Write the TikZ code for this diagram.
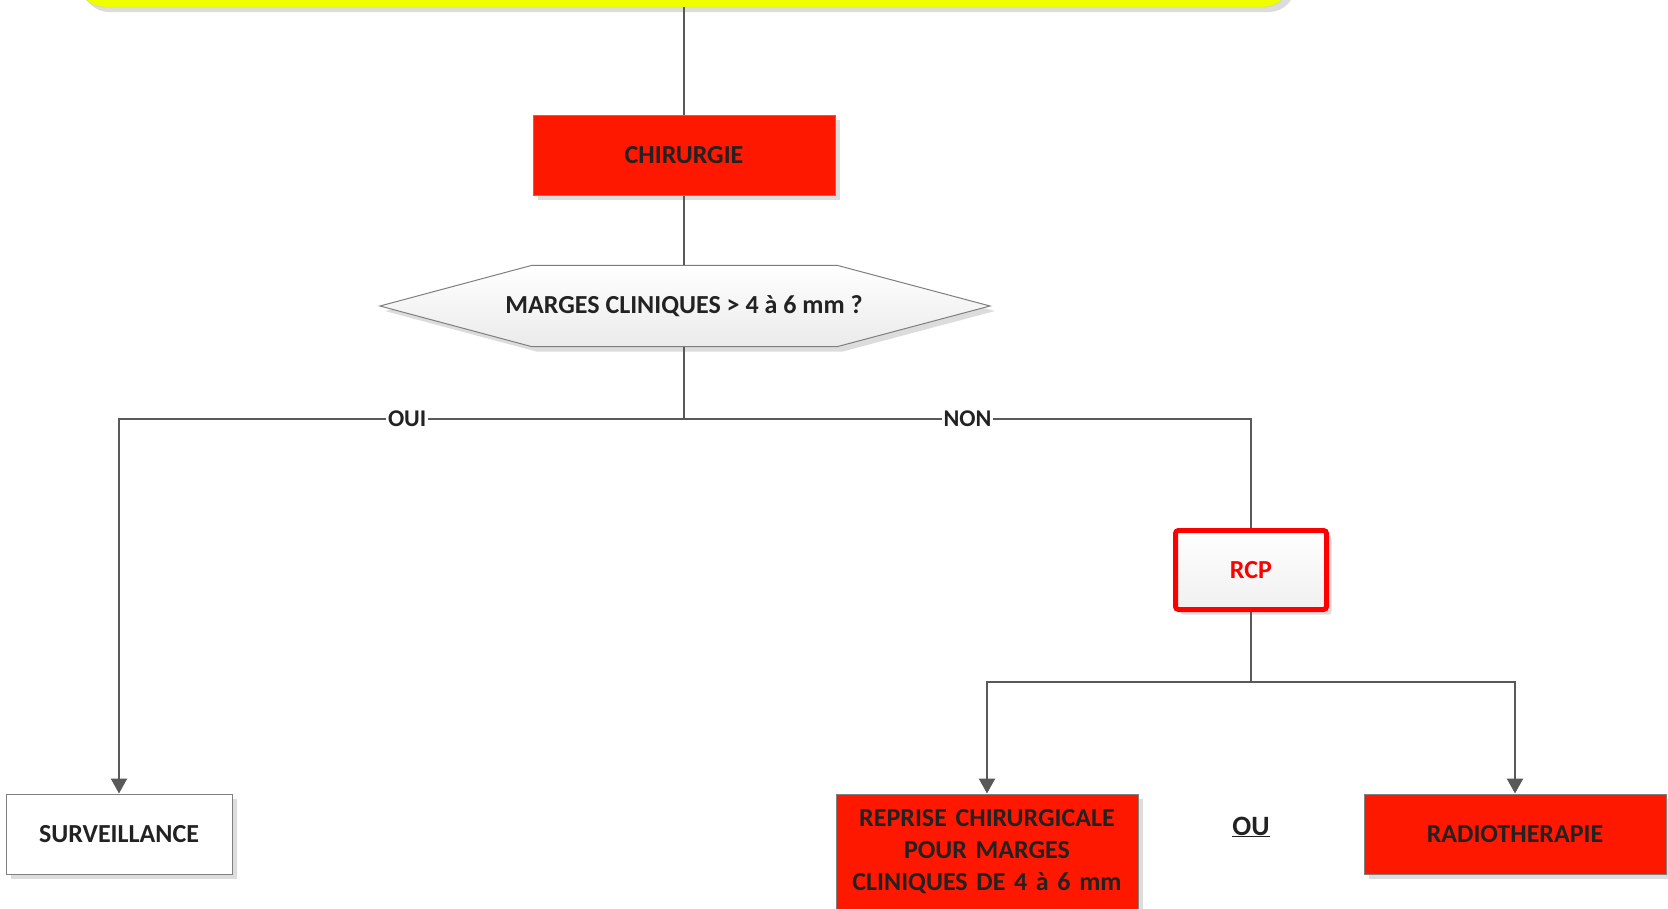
\documentclass[tikz,border=0pt]{standalone}
\usepackage{fontspec}
\setmainfont{Carlito}
\usetikzlibrary{arrows.meta,shadows,calc,backgrounds}
\definecolor{lncol}{HTML}{595959}
\definecolor{tx}{HTML}{222222}
\definecolor{bd}{HTML}{7F7F7F}
\definecolor{rf}{HTML}{FF1800}
\definecolor{yel}{HTML}{F0FF00}
\definecolor{sh}{HTML}{DCDCDC}
\tikzset{
  txt/.style={font=\fontsize{26}{32}\selectfont\bfseries, text=tx, align=center},
  shad/.style={drop shadow={shadow xshift=5pt, shadow yshift=-5pt, fill=sh, opacity=1}},
  box/.style={txt, draw=bd, line width=1pt, minimum width=302, minimum height=80, inner sep=2pt, shad},
  redbox/.style={box, fill=rf},
  conn/.style={draw=lncol, line width=2.4pt},
  arr/.style={conn, -{Triangle[width=16pt,length=15pt]}},
  lbl/.style={font=\fontsize{24}{28}\selectfont\bfseries, text=tx, fill=white, inner xsep=2pt, inner ysep=0pt},
}
\begin{document}
\begin{tikzpicture}[x=1pt,y=1pt]
\useasboundingbox (0,0) rectangle (1668,-908);
\clip (0,0) rectangle (1668,-908);
% top yellow box
\node[draw=bd!40, fill=yel, rounded corners=26pt, minimum width=1212, minimum height=140, shad] (top) at (684,63) {};
% nodes
\node[redbox] (chir) at (684,-155) {CHIRURGIE};
\node[txt, inner sep=0pt, minimum height=81] (q) at (684,-306) {MARGES CLINIQUES > 4 à 6 mm ?};
\begin{scope}[on background layer]
\fill[white] (0,0) rectangle (1668,-908);
\path[draw=bd, line width=1pt, top color=white, bottom color=gray!16, shad]
  ($(q.north)+(-152,0)$) -- ($(q.north)+(153,0)$) -- ($(q.center)+(306,0)$) -- ($(q.south)+(153,0)$)
  -- ($(q.south)+(-152,0)$) -- ($(q.center)+(-304,0)$) -- cycle;
\end{scope}
\node[box, fill=white, minimum width=226] (surv) at (119,-834) {SURVEILLANCE};
\node[txt, text=red, draw=red, line width=5pt, rounded corners=3pt, minimum width=151, minimum height=79, top color=white, bottom color=gray!12, shad] (rcp) at (1251,-570) {RCP};
\node[redbox, minimum height=116, text width=290] (rep) at (987,-852) {REPRISE CHIRURGICALE\\POUR MARGES\\CLINIQUES DE 4 à 6 mm};
\node[redbox] (radio) at (1515,-834) {RADIOTHERAPIE};
\node[txt, font=\fontsize{28}{32}\selectfont\bfseries] (ou) at (1251,-827) {\underline{OU}};
% connectors
\coordinate (br) at (684,-419);
\coordinate (br2) at (1251,-682);
\draw[conn] (top.south) -- (chir.north);
\draw[conn] (chir.south) -- (q.north);
\draw[conn] (q.south) -- (br);
\draw[arr] (br) -- node[lbl, pos=0.49] {OUI} (surv.north |- br) -- (surv.north);
\draw[conn] (br) -- node[lbl, pos=0.5] {NON} (rcp.north |- br) -- (rcp.north);
\draw[conn] (rcp.south) -- (br2);
\draw[arr] (br2) -| (rep.north);
\draw[arr] (br2) -| (radio.north);
\end{tikzpicture}
\end{document}
